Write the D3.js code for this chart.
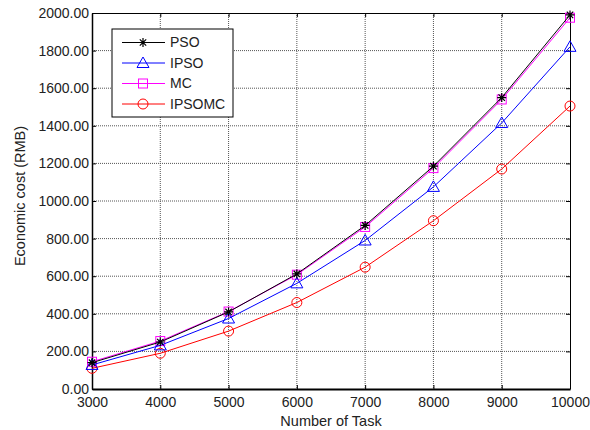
<!DOCTYPE html>
<html>
<head>
<meta charset="utf-8">
<script src="https://cdn.jsdelivr.net/npm/d3@7"></script>
<style>
  html, body { margin: 0; padding: 0; background: #fff; }
  svg { display: block; font-family: "Liberation Sans", Arial, sans-serif; }
</style>
</head>
<body>
<div id="chart"></div>
<script>
// Task counts on the x axis
const tasks = [3000, 4000, 5000, 6000, 7000, 8000, 9000, 10000];
// Economic cost (RMB) per algorithm
const psoCost    = [140, 250, 410, 612, 870, 1185, 1550, 1990];
const ipsoCost   = [128, 232, 375, 562, 790, 1075, 1415, 1820];
const mcCost     = [145, 255, 412, 608, 862, 1175, 1540, 1975];
const ipsomcCost = [110, 190, 308, 460, 648, 895, 1170, 1505];
const seriesNames = ["PSO", "IPSO", "MC", "IPSOMC"];
const yTicks = [0, 200, 400, 600, 800, 1000, 1200, 1400, 1600, 1800, 2000];

const series = [
  { name: seriesNames[0], values: psoCost,    color: "#000000", marker: "star" },
  { name: seriesNames[1], values: ipsoCost,   color: "#0000ff", marker: "triangle" },
  { name: seriesNames[2], values: mcCost,     color: "#ff00ff", marker: "square" },
  { name: seriesNames[3], values: ipsomcCost, color: "#ff0000", marker: "circle" }
];

const W = 590, H = 430;
const m = { left: 92, right: 20, top: 13, bottom: 41 };
const iw = W - m.left - m.right, ih = H - m.top - m.bottom;
const fontSize = 14;
const titleSize = 14.5;

const svg = d3.select("#chart").append("svg").attr("width", W).attr("height", H);
const g = svg.append("g").attr("transform", `translate(${m.left},${m.top})`);

const x = d3.scaleLinear().domain([3000, 10000]).range([0, iw]);
const y = d3.scaleLinear().domain([0, 2000]).range([ih, 0]);

// Dotted grid
const grid = g.append("g");
grid.selectAll("line.v").data(tasks.slice(1, -1)).join("line")
  .attr("x1", d => x(d)).attr("x2", d => x(d)).attr("y1", 0).attr("y2", ih)
  .attr("stroke", "#555").attr("stroke-width", 1).attr("stroke-dasharray", "1,1");
grid.selectAll("line.h").data(yTicks.slice(1, -1)).join("line")
  .attr("x1", 0).attr("x2", iw).attr("y1", d => y(d)).attr("y2", d => y(d))
  .attr("stroke", "#555").attr("stroke-width", 1).attr("stroke-dasharray", "1,1");

// Axes with inward ticks
const xAxis = g.append("g").attr("transform", `translate(0,${ih})`)
  .call(d3.axisBottom(x).tickValues(tasks).tickFormat(d3.format("d")).tickSizeInner(-4).tickSizeOuter(0).tickPadding(8));
const yAxis = g.append("g")
  .call(d3.axisLeft(y).tickValues(yTicks).tickFormat(d3.format(".2f")).tickSizeInner(-4).tickSizeOuter(0).tickPadding(3));
const xTop = g.append("g")
  .call(d3.axisTop(x).tickValues(tasks).tickFormat("").tickSizeInner(-4).tickSizeOuter(0));
const yRight = g.append("g").attr("transform", `translate(${iw},0)`)
  .call(d3.axisRight(y).tickValues(yTicks).tickFormat("").tickSizeInner(-4).tickSizeOuter(0));

[xAxis, yAxis, xTop, yRight].forEach(a => {
  a.selectAll("text").attr("font-size", fontSize).attr("fill", "#222")
    .style("font-family", '"Liberation Sans", Arial, sans-serif');
  a.selectAll("line").attr("stroke", "#000");
  a.select(".domain").attr("stroke", "#000");
});
xAxis.select(".domain").attr("stroke-width", 2);
yAxis.select(".domain").attr("stroke-width", 1.5);

// Axis titles
svg.append("text").attr("x", m.left + iw / 2).attr("y", 426)
  .attr("text-anchor", "middle").attr("font-size", titleSize).attr("fill", "#222")
  .text("Number of Task");
svg.append("text")
  .attr("transform", `translate(25,196) rotate(-90)`)
  .attr("text-anchor", "middle").attr("font-size", titleSize).attr("fill", "#222")
  .text("Economic cost (RMB)");

// Marker drawing
function drawMarker(sel, type, color) {
  if (type === "circle") {
    sel.append("circle").attr("r", 5).attr("fill", "none").attr("stroke", color).attr("stroke-width", 1);
  } else if (type === "square") {
    sel.append("rect").attr("x", -4.5).attr("y", -4.5).attr("width", 9).attr("height", 9)
      .attr("fill", "none").attr("stroke", color).attr("stroke-width", 1);
  } else if (type === "triangle") {
    sel.append("path").attr("d", "M0,-6L6,4.5L-6,4.5Z")
      .attr("fill", "none").attr("stroke", color).attr("stroke-width", 1);
  } else if (type === "star") {
    sel.append("path").attr("d", "M0,-4.5V4.5M-4.5,0H4.5M-3.2,-3.2L3.2,3.2M-3.2,3.2L3.2,-3.2")
      .attr("fill", "none").attr("stroke", color).attr("stroke-width", 1.2);
  }
}

const line = d3.line().x((d, i) => x(tasks[i])).y(d => y(d));

// Draw series in reverse so PSO sits on top
[...series].reverse().forEach(s => {
  g.append("path").datum(s.values).attr("d", line)
    .attr("fill", "none").attr("stroke", s.color).attr("stroke-width", 1);
  g.selectAll(null).data(s.values).join("g")
    .attr("transform", (d, i) => `translate(${x(tasks[i])},${y(d)})`)
    .each(function () { drawMarker(d3.select(this), s.marker, s.color); });
});

// Legend
const lg = svg.append("g").attr("transform", "translate(112,29)");
lg.append("rect").attr("width", 121).attr("height", 88)
  .attr("fill", "#fff").attr("stroke", "#000").attr("stroke-width", 1);
series.forEach((s, i) => {
  const row = lg.append("g").attr("transform", `translate(0,${13.5 + i * 20.5})`);
  row.append("line").attr("x1", 10).attr("x2", 53).attr("stroke", s.color).attr("stroke-width", 1);
  drawMarker(row.append("g").attr("transform", "translate(31,0)"), s.marker, s.color);
  row.append("text").attr("x", 58).attr("y", 0).attr("dy", "0.35em")
    .attr("font-size", fontSize).attr("fill", "#222").text(s.name);
});
</script>
</body>
</html>
